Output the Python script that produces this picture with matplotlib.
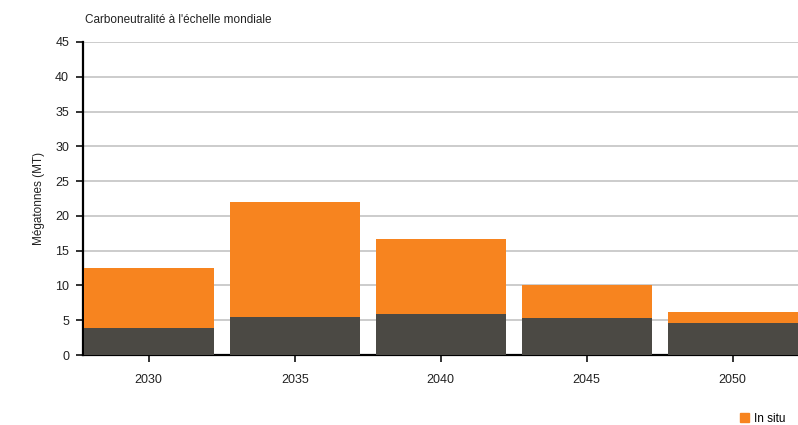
import matplotlib
matplotlib.use("Agg")
import matplotlib.pyplot as plt
from matplotlib.patches import Patch

plt.rcParams['font.family'] = ['Liberation Sans', 'DejaVu Sans']

years = ["2030", "2035", "2040", "2045", "2050"]
dark_values = [3.9, 5.45, 5.9, 5.3, 4.6]
total_values = [12.5, 22.0, 16.7, 10.0, 6.2]
orange_values = [t - d for t, d in zip(total_values, dark_values)]
yticks = [0, 5, 10, 15, 20, 25, 30, 35, 40, 45]

orange = "#F7841F"
dark = "#4B4944"

fig = plt.figure(figsize=(7.98, 4.25), dpi=100)
ax = fig.add_axes([83/798, 70/425, 730/798, 313/425])

x = list(range(len(years)))
ax.bar(x, dark_values, width=0.89, color=dark, zorder=3)
ax.bar(x, orange_values, bottom=dark_values, width=0.89, color=orange, zorder=3)

ax.set_xlim(-0.45, 4.55)
ax.set_ylim(0, 45)
ax.set_yticks(yticks)
ax.set_xticks(x)
ax.set_xticklabels(years)
ax.yaxis.grid(True, color="#C8C8C8", linewidth=1.3, zorder=0)
ax.set_axisbelow(True)
for s in ["top", "right"]:
    ax.spines[s].set_visible(False)
ax.spines["left"].set_linewidth(1.6)
ax.spines["bottom"].set_linewidth(1.6)
ax.tick_params(axis="both", labelsize=9, length=5, width=1.3, colors="#222222")
ax.tick_params(axis="x", pad=9)
ax.tick_params(axis="y", pad=5)
ax.set_ylabel("Mégatonnes (MT)", fontsize=8.5, labelpad=7, color="#222222")

fig.text(85/798, 1 - 20/425, "Carboneutralité à l'échelle mondiale",
         fontsize=8.5, color="#222222", va="center", ha="left")

fig.legend(handles=[Patch(color=orange, label="In situ")],
           loc="center left", bbox_to_anchor=(740/798, 1 - 419/425),
           frameon=False, fontsize=8.5, handlelength=0.8, handleheight=0.8,
           handletextpad=0.4, borderpad=0, borderaxespad=0)

fig.savefig("out.png", dpi=100)
